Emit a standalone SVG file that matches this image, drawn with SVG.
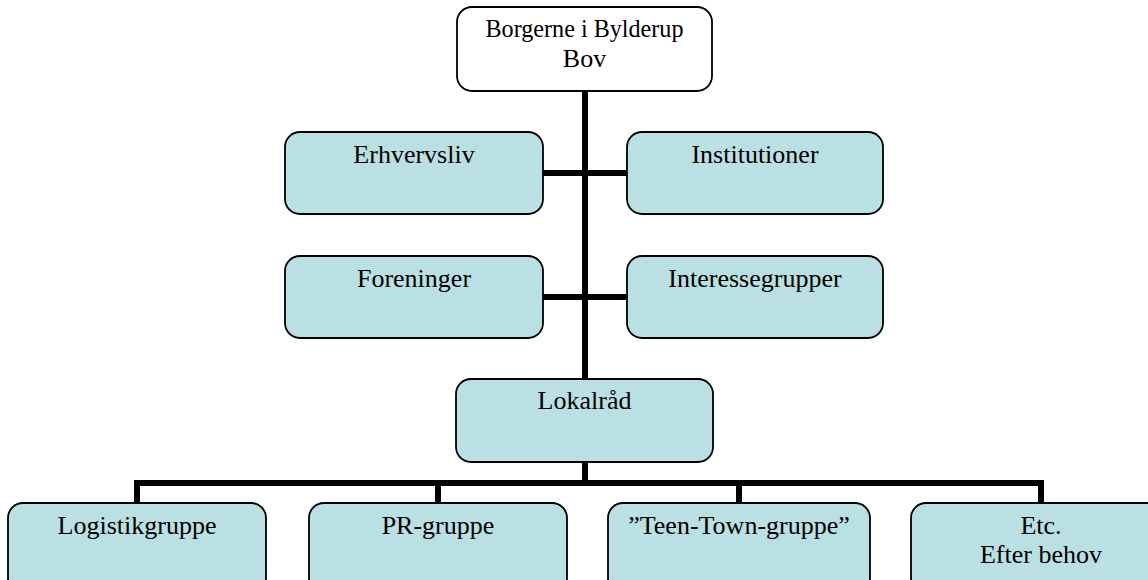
<svg xmlns="http://www.w3.org/2000/svg" width="1148" height="580" viewBox="0 0 1148 580">
<style>
.box{fill:#bae0e3;stroke:#000;stroke-width:1.8}
.top{fill:#fff;stroke:#000;stroke-width:1.8}
.t{font-family:"Liberation Serif","Times New Roman",serif;font-size:26px;fill:#000;text-anchor:middle}
.c{stroke:#000;stroke-width:6;fill:none;stroke-linecap:butt}
</style>
<rect width="1148" height="580" fill="#fff"/>
<g id="connectors">
<line class="c" x1="585" y1="91" x2="585" y2="379"/>
<line class="c" x1="543" y1="173" x2="627" y2="173"/>
<line class="c" x1="543" y1="297" x2="627" y2="297"/>
<line class="c" x1="585" y1="462" x2="585" y2="483"/>
<path class="c" d="M137,503 V483 H1041 V503"/>
<line class="c" x1="438" y1="483" x2="438" y2="503"/>
<line class="c" x1="739" y1="483" x2="739" y2="503"/>
</g>
<g id="borgerne">
<rect class="top" x="457" y="7" width="255" height="84" rx="15"/>
<text class="t" x="584.5" y="37" textLength="198" lengthAdjust="spacingAndGlyphs">Borgerne i Bylderup</text>
<text class="t" x="584.5" y="67">Bov</text>
</g>
<g id="erhvervsliv">
<rect class="box" x="285" y="132" width="258" height="82" rx="15"/>
<text class="t" x="414" y="163">Erhvervsliv</text>
</g>
<g id="institutioner">
<rect class="box" x="627" y="132" width="256" height="82" rx="15"/>
<text class="t" x="755" y="163">Institutioner</text>
</g>
<g id="foreninger">
<rect class="box" x="285" y="256" width="258" height="82" rx="15"/>
<text class="t" x="414" y="287">Foreninger</text>
</g>
<g id="interessegrupper">
<rect class="box" x="627" y="256" width="256" height="82" rx="15"/>
<text class="t" x="755" y="287">Interessegrupper</text>
</g>
<g id="lokalraad">
<rect class="box" x="456" y="379" width="257" height="83" rx="15"/>
<text class="t" x="584.5" y="409">Lokalråd</text>
</g>
<g id="logistikgruppe">
<rect class="box" x="8" y="503" width="258" height="90" rx="15"/>
<text class="t" x="137" y="534">Logistikgruppe</text>
</g>
<g id="prgruppe">
<rect class="box" x="309" y="503" width="258" height="90" rx="15"/>
<text class="t" x="438" y="534">PR-gruppe</text>
</g>
<g id="teentown">
<rect class="box" x="608" y="503" width="262" height="90" rx="15"/>
<text class="t" x="739" y="534">”Teen-Town-gruppe”</text>
</g>
<g id="etc">
<rect class="box" x="911" y="503" width="260" height="90" rx="15"/>
<text class="t" x="1041" y="534">Etc.</text>
<text class="t" x="1041" y="563">Efter behov</text>
</g>
</svg>
